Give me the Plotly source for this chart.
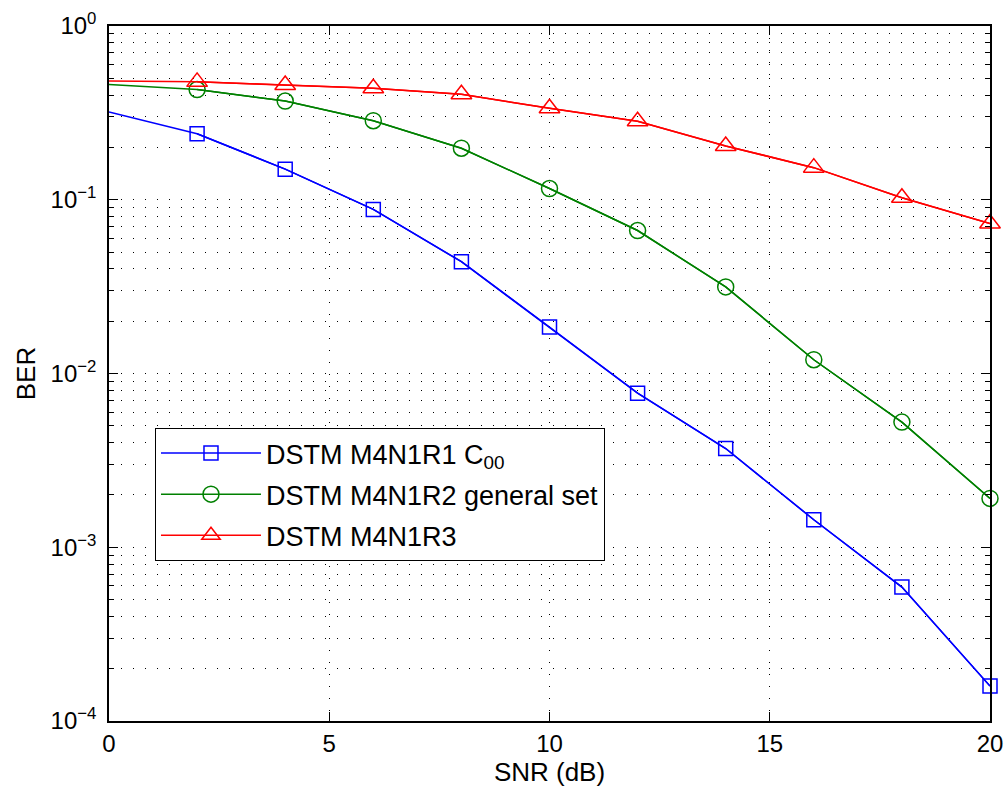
import plotly.graph_objects as go

# SNR sweep (dB) and simulated bit error rates
snr = [0, 2, 4, 6, 8, 10, 12, 14, 16, 18, 20]
ber_r1 = [0.320, 0.240, 0.150, 0.088, 0.044, 0.0185, 0.0077, 0.0037, 0.00144, 0.00059, 0.000159]
ber_r2 = [0.461, 0.431, 0.370, 0.285, 0.198, 0.116, 0.0665, 0.0315, 0.0120, 0.00525, 0.00191]
ber_r3 = [0.483, 0.477, 0.458, 0.438, 0.405, 0.336, 0.283, 0.204, 0.153, 0.1026, 0.073]

names = ["DSTM M4N1R1 C<sub>00</sub>", "DSTM M4N1R2 general set", "DSTM M4N1R3"]
colors = ["#0000ff", "#008000", "#ff0000"]
symbols = ["square-open", "circle-open", "triangle-up-open"]
sizes = [14, 16, 18]

y_tickvals = [1e-4, 1e-3, 1e-2, 1e-1, 1e0]
y_ticktext = ["10<sup>\u22124</sup>", "10<sup>\u22123</sup>", "10<sup>\u22122</sup>",
              "10<sup>\u22121</sup>", "10<sup>0</sup>"]
x_tickvals = [0, 5, 10, 15, 20]

FONT = "Liberation Sans, Arial, sans-serif"
DOTS = "1px,11px"

fig = go.Figure()
for i, ber in enumerate([ber_r1, ber_r2, ber_r3]):
    # full curve from 0 dB
    fig.add_trace(go.Scatter(
        x=snr, y=ber, mode="lines", legendgroup=f"g{i}", showlegend=False,
        line=dict(color=colors[i], width=1.5), hoverinfo="skip", cliponaxis=False))
    # marked points from 2 dB onward
    fig.add_trace(go.Scatter(
        x=snr[1:], y=ber[1:], mode="lines+markers", name=names[i], legendgroup=f"g{i}",
        line=dict(color=colors[i], width=1.5), cliponaxis=False,
        marker=dict(symbol=symbols[i], size=sizes[i], color=colors[i],
                    line=dict(color=colors[i], width=1.5))))

minor_y = [k * 10.0 ** d for d in range(-4, 0) for k in range(2, 10)]

fig.update_layout(
    width=1007, height=794,
    margin=dict(l=109, r=17, t=26, b=73, autoexpand=False),
    paper_bgcolor="white", plot_bgcolor="white",
    font=dict(family=FONT, size=24, color="black"),
    showlegend=True,
    legend=dict(
        x=0.0522, y=0.4216, xanchor="left", yanchor="top",
        bgcolor="white", bordercolor="black", borderwidth=1,
        font=dict(family=FONT, size=27, color="black"),
        itemwidth=100, tracegroupgap=3, traceorder="grouped",
    ),
    xaxis=dict(
        range=[0, 20], tickmode="array", tickvals=x_tickvals, automargin=False,
        ticks="inside", ticklen=9, tickwidth=1, tickcolor="black",
        showline=True, linecolor="black", linewidth=1.5, mirror="ticks",
        showgrid=True, gridcolor="black", gridwidth=1, griddash=DOTS,
        zeroline=False,
        title=dict(text="SNR (dB)", font=dict(family=FONT, size=26), standoff=6),
        tickfont=dict(family=FONT, size=24),
    ),
    yaxis=dict(
        type="log", range=[-4, 0], tickmode="array", tickvals=y_tickvals, ticktext=y_ticktext,
        automargin=False,
        ticks="inside", ticklen=9, tickwidth=1, tickcolor="black",
        showline=True, linecolor="black", linewidth=1.5, mirror="ticks",
        showgrid=True, gridcolor="black", gridwidth=1, griddash=DOTS,
        zeroline=False,
        minor=dict(tickmode="array", tickvals=minor_y, ticks="inside", ticklen=5,
                   tickcolor="black", showgrid=True, gridcolor="black", gridwidth=1,
                   griddash=DOTS),
        title=dict(text="BER", font=dict(family=FONT, size=26), standoff=8),
        tickfont=dict(family=FONT, size=24),
        ticklabelstandoff=6,
    ),
)

fig.write_html("out.html")
